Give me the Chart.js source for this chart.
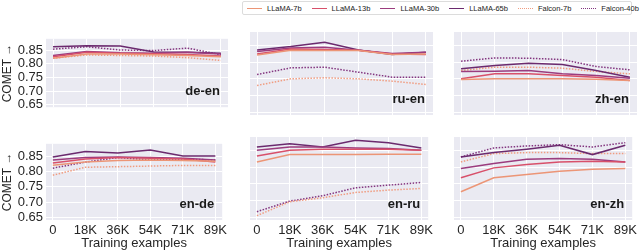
<!DOCTYPE html>
<html>
<head>
<meta charset="utf-8">
<script src="https://cdn.jsdelivr.net/npm/chart.js@4"></script>
<style>
  body { margin: 0; width: 640px; height: 252px; background: #fff; position: relative; overflow: hidden; font-family: "Liberation Sans", Arial, sans-serif; }
  canvas { position: absolute; }
  #legend { position: absolute; left: 242px; top: 1px; height: 14px; width: 390px; box-sizing: border-box; border: 1px solid #dcdcdc; border-radius: 2px; display: flex; align-items: center; padding-left: 4px; font-size: 7.5px; color: #222; white-space: nowrap; }
  #legend .item { display: flex; align-items: center; margin-right: 10px; flex-shrink: 0; }
  #legend .swatch { width: 15px; height: 0; margin-right: 5px; }
</style>
</head>
<body>
<div id="legend"></div>
<canvas id="deEn" width="230" height="90" style="left:0;top:28px"></canvas>
<canvas id="ruEn" width="190" height="90" style="left:246px;top:28px"></canvas>
<canvas id="zhEn" width="190" height="90" style="left:450px;top:28px"></canvas>
<canvas id="enDe" width="230" height="119" style="left:0;top:133px"></canvas>
<canvas id="enRu" width="190" height="119" style="left:246px;top:133px"></canvas>
<canvas id="enZh" width="190" height="119" style="left:450px;top:133px"></canvas>
<script>
const steps = ["0", "18K", "36K", "54K", "71K", "89K"];
const yTicks = [0.65, 0.70, 0.75, 0.80, 0.85];
const models = ["LLaMA-7b", "LLaMA-13b", "LLaMA-30b", "LLaMA-65b", "Falcon-7b", "Falcon-40b"];
const colors = ["#ec9576", "#d8506a", "#9b3c7e", "#6b2a6e", "#f09c80", "#83357f"];
const dotted = [false, false, false, false, true, true];

// rows follow the order of `models`
const deEn = [
  [0.820, 0.835, 0.835, 0.833, 0.830, 0.825],
  [0.825, 0.842, 0.838, 0.836, 0.834, 0.828],
  [0.830, 0.845, 0.840, 0.838, 0.842, 0.835],
  [0.862, 0.866, 0.865, 0.843, 0.842, 0.838],
  [0.820, 0.832, 0.830, 0.828, 0.822, 0.812],
  [0.853, 0.862, 0.850, 0.848, 0.857, 0.833],
];
const ruEn = [
  [0.822, 0.836, 0.835, 0.835, 0.823, 0.825],
  [0.825, 0.840, 0.838, 0.836, 0.825, 0.823],
  [0.832, 0.843, 0.845, 0.836, 0.826, 0.830],
  [0.837, 0.847, 0.860, 0.837, 0.823, 0.830],
  [0.730, 0.750, 0.753, 0.750, 0.743, 0.733],
  [0.763, 0.783, 0.785, 0.770, 0.755, 0.755],
];
const zhEn = [
  [0.748, 0.750, 0.750, 0.750, 0.749, 0.745],
  [0.750, 0.765, 0.765, 0.760, 0.755, 0.745],
  [0.772, 0.773, 0.775, 0.765, 0.760, 0.752],
  [0.780, 0.790, 0.797, 0.793, 0.775, 0.755],
  [0.775, 0.785, 0.785, 0.782, 0.772, 0.765],
  [0.803, 0.813, 0.812, 0.808, 0.787, 0.777],
];
const enDe = [
  [0.821, 0.831, 0.836, 0.838, 0.836, 0.834],
  [0.828, 0.841, 0.846, 0.844, 0.841, 0.831],
  [0.838, 0.846, 0.848, 0.846, 0.844, 0.838],
  [0.848, 0.866, 0.861, 0.871, 0.851, 0.851],
  [0.788, 0.814, 0.816, 0.818, 0.820, 0.820],
  [0.811, 0.831, 0.846, 0.838, 0.841, 0.838],
];
const enRu = [
  [0.816, 0.838, 0.838, 0.838, 0.839, 0.839],
  [0.834, 0.851, 0.854, 0.854, 0.854, 0.851],
  [0.851, 0.861, 0.861, 0.858, 0.856, 0.851],
  [0.861, 0.871, 0.861, 0.881, 0.874, 0.858],
  [0.654, 0.696, 0.708, 0.724, 0.731, 0.736],
  [0.666, 0.698, 0.714, 0.738, 0.746, 0.754],
];
const enZh = [
  [0.726, 0.768, 0.778, 0.788, 0.794, 0.796],
  [0.768, 0.798, 0.808, 0.816, 0.818, 0.816],
  [0.796, 0.811, 0.824, 0.826, 0.824, 0.816],
  [0.831, 0.844, 0.854, 0.866, 0.838, 0.866],
  [0.816, 0.841, 0.844, 0.844, 0.841, 0.841],
  [0.831, 0.858, 0.864, 0.868, 0.861, 0.874],
];

const FONT = "'Liberation Sans', Arial, sans-serif";

// legend
const legend = document.getElementById("legend");
models.forEach((name, i) => {
  const item = document.createElement("div");
  item.className = "item";
  const sw = document.createElement("span");
  sw.className = "swatch";
  sw.style.borderTop = (dotted[i] ? "1.5px dotted " : "1.5px solid ") + colors[i];
  item.appendChild(sw);
  item.appendChild(document.createTextNode(name));
  legend.appendChild(item);
});

const panelBg = {
  id: "panelBg",
  beforeDraw(chart) {
    const { ctx, chartArea: a } = chart;
    ctx.save();
    ctx.fillStyle = "#eaeaf2";
    ctx.fillRect(a.left, a.top, a.right - a.left, a.bottom - a.top);
    ctx.restore();
  },
};

const cornerLabel = {
  id: "cornerLabel",
  afterDatasetsDraw(chart, args, opts) {
    const { ctx, chartArea: a } = chart;
    ctx.save();
    ctx.font = "bold 13px " + FONT;
    ctx.fillStyle = "#1a1a1a";
    ctx.textAlign = "right";
    ctx.textBaseline = "middle";
    ctx.fillText(opts.text, a.right - 8, a.bottom - 16);
    ctx.restore();
  },
};

const makePanel = (id, label, rows, firstCol, bottomRow) => {
  new Chart(document.getElementById(id), {
    type: "line",
    data: {
      datasets: rows.map((vals, i) => ({
        label: models[i],
        data: vals.map((v, k) => ({ x: k, y: v })),
        borderColor: colors[i],
        borderWidth: 1.5,
        borderDash: dotted[i] ? [1.5, 1.5] : [],
        pointRadius: 0,
        tension: 0,
        fill: false,
      })),
    },
    options: {
      responsive: false,
      animation: false,
      layout: { padding: { top: 4, right: firstCol ? 2 : 3, left: 0, bottom: 0 } },
      plugins: {
        legend: { display: false },
        tooltip: { enabled: false },
        cornerLabel: { text: label },
      },
      scales: {
        x: {
          type: "linear",
          min: -0.21,
          max: 5.21,
          afterBuildTicks: (s) => { s.ticks = steps.map((_, k) => ({ value: k })); },
          afterFit: (s) => { s.height = bottomRow ? 32 : 3; },
          border: { display: false },
          grid: { color: "#ffffff", lineWidth: 1, drawTicks: false },
          ticks: {
            display: bottomRow,
            autoSkip: false,
            padding: 3,
            maxRotation: 0,
            color: "#262626",
            font: { family: FONT, size: 13 },
            callback: (v) => steps[v],
          },
          title: {
            display: bottomRow,
            text: "Training examples",
            color: "#262626",
            padding: { top: 0, bottom: 1 },
            font: { family: FONT, size: 13 },
          },
        },
        y: {
          min: 0.641,
          max: 0.891,
          afterBuildTicks: (s) => { s.ticks = yTicks.map((v) => ({ value: v })); },
          afterFit: (s) => { s.width = firstCol ? 46 : 4; },
          border: { display: false },
          grid: { color: "#ffffff", lineWidth: 1, drawTicks: false },
          ticks: {
            display: firstCol,
            autoSkip: false,
            padding: 3,
            color: "#262626",
            font: { family: FONT, size: 13 },
            callback: (v) => v.toFixed(2),
          },
          title: {
            display: firstCol,
            text: "COMET \u2192",
            color: "#262626",
            padding: 0,
            font: { family: FONT, size: 12 },
          },
        },
      },
    },
    plugins: [panelBg, cornerLabel],
  });
};

makePanel("deEn", "de-en", deEn, true, false);
makePanel("ruEn", "ru-en", ruEn, false, false);
makePanel("zhEn", "zh-en", zhEn, false, false);
makePanel("enDe", "en-de", enDe, true, true);
makePanel("enRu", "en-ru", enRu, false, true);
makePanel("enZh", "en-zh", enZh, false, true);
</script>
</body>
</html>
